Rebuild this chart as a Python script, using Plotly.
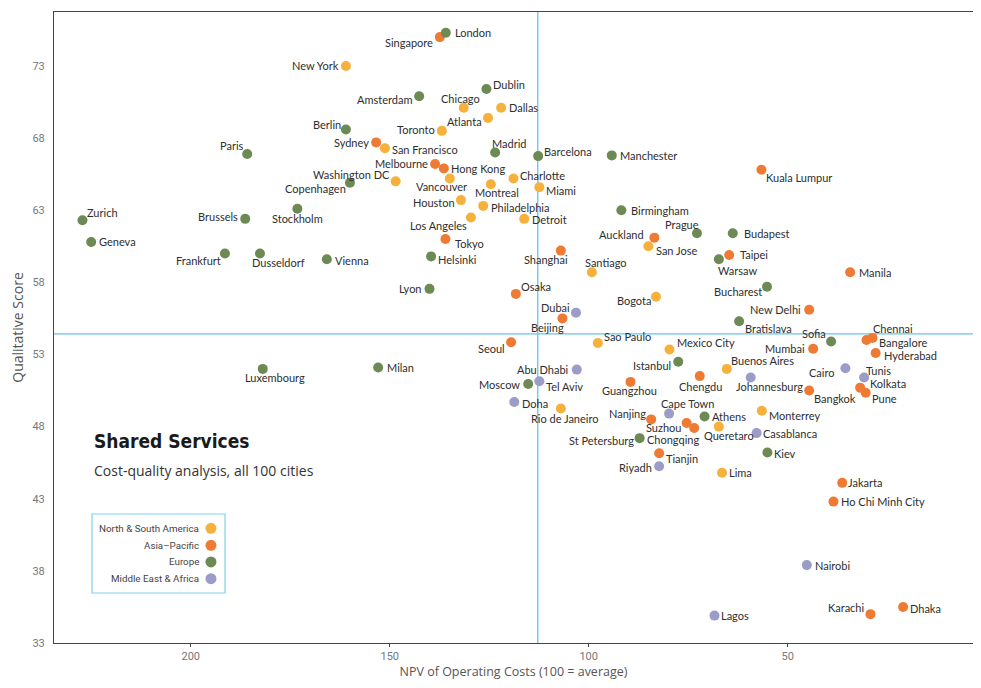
import plotly.graph_objects as go

# ---------------- data ----------------
americas_names = ["New York", "Chicago", "Dallas", "Atlanta", "Toronto", "San Francisco",
                  "Washington DC", "Vancouver", "Montreal", "Charlotte", "Miami", "Houston",
                  "Philadelphia", "Detroit", "Los Angeles", "Santiago", "San Jose", "Bogota",
                  "Sao Paulo", "Mexico City", "Buenos Aires", "Rio de Janeiro", "Monterrey",
                  "Queretaro", "Lima"]
americas_cost = [161.0, 131.4, 122.0, 125.3, 136.9, 151.2, 148.5, 134.9, 124.6, 118.9, 112.4,
                 132.1, 126.5, 116.2, 129.6, 99.2, 85.0, 83.1, 97.7, 79.7, 65.3, 107.0, 56.5,
                 67.3, 66.5]
americas_score = [73.0, 70.1, 70.1, 69.4, 68.5, 67.3, 65.0, 65.2, 64.8, 65.2, 64.6, 63.7,
                  63.3, 62.4, 62.5, 58.7, 60.5, 57.0, 53.8, 53.35, 52.0, 49.25, 49.1, 48.0, 44.8]

asia_names = ["Singapore", "Sydney", "Melbourne", "Hong Kong", "Tokyo", "Shanghai", "Osaka",
              "Beijing", "Seoul", "Auckland", "Kuala Lumpur", "Taipei", "Manila", "New Delhi",
              "Chennai", "Bangalore", "Mumbai", "Hyderabad", "Kolkata", "Pune", "Bangkok",
              "Chengdu", "Guangzhou", "Nanjing", "Suzhou", "Chongqing", "Tianjin", "Jakarta",
              "Ho Chi Minh City", "Karachi", "Dhaka"]
asia_cost = [137.4, 153.4, 138.6, 136.4, 136.0, 107.0, 118.3, 106.6, 119.5, 83.5, 56.6, 64.7,
             34.3, 44.6, 28.7, 30.2, 43.6, 27.9, 31.8, 30.4, 44.6, 72.1, 89.5, 84.3, 75.4, 73.5,
             82.3, 36.3, 38.5, 29.2, 21.0]
asia_score = [75.0, 67.7, 66.2, 65.9, 61.0, 60.2, 57.2, 55.5, 53.85, 61.1, 65.8, 59.9, 58.7,
              56.1, 54.15, 54.0, 53.4, 53.1, 50.7, 50.35, 50.5, 51.5, 51.1, 48.5, 48.25, 47.9,
              46.15, 44.1, 42.8, 35.0, 35.5]

europe_names = ["London", "Dublin", "Amsterdam", "Berlin", "Paris", "Copenhagen", "Stockholm",
                "Brussels", "Zurich", "Geneva", "Frankfurt", "Dusseldorf", "Vienna", "Helsinki",
                "Lyon", "Madrid", "Barcelona", "Manchester", "Birmingham", "Prague", "Budapest",
                "Warsaw", "Bucharest", "Bratislava", "Sofia", "Luxembourg", "Milan", "Istanbul",
                "Moscow", "St Petersburg", "Athens", "Kiev"]
europe_cost = [135.9, 125.7, 142.6, 161.0, 185.8, 160.0, 173.2, 186.3, 227.2, 225.0, 191.4,
               182.6, 165.8, 139.6, 140.0, 123.5, 112.7, 94.2, 91.8, 72.8, 63.8, 67.3, 55.2,
               62.2, 39.1, 181.9, 152.9, 77.5, 115.2, 87.2, 70.9, 55.1]
europe_score = [75.3, 71.4, 70.9, 68.6, 66.9, 64.9, 63.1, 62.4, 62.3, 60.8, 60.0, 60.0, 59.6,
                59.8, 57.55, 67.0, 66.75, 66.8, 63.0, 61.4, 61.4, 59.6, 57.7, 55.3, 53.9, 52.0,
                52.1, 52.5, 50.95, 47.2, 48.7, 46.2]

mea_names = ["Dubai", "Abu Dhabi", "Tel Aviv", "Doha", "Riyadh", "Cape Town", "Johannesburg",
             "Cairo", "Tunis", "Casablanca", "Nairobi", "Lagos"]
mea_cost = [103.2, 103.0, 112.4, 118.7, 82.3, 79.8, 59.3, 35.5, 30.8, 57.8, 45.2, 68.4]
mea_score = [55.9, 51.95, 51.15, 49.7, 45.25, 48.9, 51.4, 52.05, 51.4, 47.55, 38.4, 34.9]

region_names = ["North & South America", "Asia\u2013Pacific", "Europe", "Middle East & Africa"]

avg_cost = 112.8
avg_score = 54.43

x_ticks = [200, 150, 100, 50]
y_ticks = [33, 38, 43, 48, 53, 58, 63, 68, 73]

# ---------------- styles ----------------
COLORS = ["#F6B13C", "#EF7A33", "#6D8A55", "#9C9CC8"]

# label placement: (anchor side, x offset px of anchored edge from dot, y offset px downwards)
LABEL_OFFSETS = {
    "New York": ("right", -6, 0), "Berlin": ("right", -4, -5), "Sydney": ("right", -6, 0),
    "Paris": ("right", -2, -8), "Washington DC": ("right", -5, -7),
    "Copenhagen": ("right", -3, 6), "Stockholm": ("center", 0, 10),
    "Brussels": ("right", -6, -2), "Zurich": ("left", 4, -8), "Geneva": ("left", 7, 0),
    "Frankfurt": ("right", -3, 7), "Dusseldorf": ("left", -9, 9), "Vienna": ("left", 7, 1),
    "Luxembourg": ("left", -19, 9), "Milan": ("left", 8, 0),
    "London": ("left", 8, 0), "Singapore": ("right", -6, 5), "Dublin": ("left", 6, -5),
    "Amsterdam": ("right", -6, 3), "Chicago": ("center", -3, -9), "Dallas": ("left", 7, 0),
    "Atlanta": ("right", -5, 4), "Toronto": ("right", -6, -1),
    "San Francisco": ("left", 6, 1), "Madrid": ("left", -4, -9),
    "Barcelona": ("left", 5, -5), "Manchester": ("left", 7, 0),
    "Melbourne": ("right", -6, -1), "Hong Kong": ("left", 6, 0),
    "Vancouver": ("center", -8, 8), "Montreal": ("center", 6, 8),
    "Charlotte": ("left", 6, -3), "Miami": ("left", 6, 3), "Houston": ("right", -5, 2),
    "Philadelphia": ("left", 7, 2), "Detroit": ("left", 7, 1),
    "Los Angeles": ("right", -3, 8), "Tokyo": ("left", 9, 4), "Helsinki": ("left", 6, 3),
    "Lyon": ("right", -7, 0), "Osaka": ("left", 4, -7), "Shanghai": ("center", -15, 9),
    "Santiago": ("center", 14, -10), "Auckland": ("right", -9, -3),
    "San Jose": ("left", 7, 4), "Bogota": ("right", -4, 4), "Dubai": ("right", -5, -5),
    "Beijing": ("right", 3, 9), "Seoul": ("right", -5, 6), "Sao Paulo": ("left", 5, -6),
    "Mexico City": ("left", 7, -7), "Birmingham": ("left", 9, 0), "Prague": ("right", 3, -9),
    "Kuala Lumpur": ("left", 4, 8), "Budapest": ("left", 10, 0), "Taipei": ("left", 10, 0),
    "Warsaw": ("left", -2, 11), "Manila": ("left", 8, 0), "Bucharest": ("right", -4, 5),
    "New Delhi": ("right", -7, 0), "Bratislava": ("left", 5, 7),
    "Sofia": ("right", -4, -8), "Chennai": ("left", 0, -9), "Bangalore": ("left", 11, 2),
    "Mumbai": ("right", -7, 0), "Hyderabad": ("left", 7, 2), "Cairo": ("right", -10, 4),
    "Tunis": ("left", 1, -7), "Kolkata": ("left", 9, -4), "Pune": ("left", 5, 6),
    "Bangkok": ("left", 4, 8), "Johannesburg": ("left", -16, 9),
    "Buenos Aires": ("left", 3, -8), "Monterrey": ("left", 6, 5), "Athens": ("left", 6, 0),
    "Queretaro": ("left", -16, 9), "Casablanca": ("left", 5, 0), "Kiev": ("left", 6, 1),
    "Lima": ("left", 6, 0), "Jakarta": ("left", 5, 0), "Ho Chi Minh City": ("left", 7, 0),
    "Abu Dhabi": ("right", -7, 0), "Tel Aviv": ("left", 6, 5), "Moscow": ("right", -7, 0),
    "Doha": ("left", 7, 1), "Rio de Janeiro": ("center", 4, 10),
    "Istanbul": ("right", -6, 4), "Chengdu": ("center", 1, 10),
    "Guangzhou": ("center", -1, 9), "Cape Town": ("left", -9, -10),
    "Nanjing": ("right", -4, -6), "Suzhou": ("right", -5, 4), "Chongqing": ("right", 6, 11),
    "St Petersburg": ("right", -5, 2), "Tianjin": ("left", 6, 5), "Riyadh": ("right", -6, 1),
    "Nairobi": ("left", 7, 0), "Lagos": ("left", 6, 0), "Karachi": ("right", -5, -7),
    "Dhaka": ("left", 6, 2),
}
LABEL_FONT = dict(family="Lato, 'Open Sans', sans-serif", size=11, color="#2e2e2e")

fig = go.Figure()

groups = [
    (americas_names, americas_cost, americas_score),
    (asia_names, asia_cost, asia_score),
    (europe_names, europe_cost, europe_score),
    (mea_names, mea_cost, mea_score),
]
for (names, cost, score), rname, col in zip(groups, region_names, COLORS):
    fig.add_trace(go.Scatter(
        x=cost, y=score, mode="markers", name=rname,
        text=names,
        marker=dict(size=10, color=col, line=dict(width=0)),
        cliponaxis=False,
        hovertemplate="%{text}<br>Cost %{x}<br>Score %{y}<extra></extra>",
    ))
    for n, cx, cy in zip(names, cost, score):
        side, dx, dy = LABEL_OFFSETS.get(n, ("left", 7, 0))
        fig.add_annotation(x=cx, y=cy, xref="x", yref="y", text=n, showarrow=False,
                           xanchor=side, yanchor="middle", xshift=dx, yshift=-dy,
                           borderpad=0, font=LABEL_FONT)

# reference lines
LINE_BLUE = "#66C4EC"
fig.add_shape(type="line", xref="x", yref="paper", x0=avg_cost, x1=avg_cost, y0=0, y1=1,
              line=dict(color=LINE_BLUE, width=1.3), layer="below")
fig.add_shape(type="line", xref="paper", yref="y", x0=0, x1=1, y0=avg_score, y1=avg_score,
              line=dict(color=LINE_BLUE, width=1.3), layer="below")

# title and subtitle
fig.add_annotation(xref="paper", yref="paper", x=0.0413, y=0.320, xanchor="left", yanchor="middle",
                   text="<b>Shared Services</b>", showarrow=False,
                   font=dict(family="'Liberation Sans Narrow', 'DejaVu Sans Condensed', Roboto, sans-serif",
                             size=19, color="#1a1a1a"))
fig.add_annotation(xref="paper", yref="paper", x=0.0413, y=0.274, xanchor="left", yanchor="middle",
                   text="Cost-quality analysis, all 100 cities", showarrow=False,
                   font=dict(family="'Open Sans', sans-serif", size=14, color="#333333"))

# custom legend box (symbols on the right as in the reference)
fig.add_shape(type="rect", xref="paper", yref="paper", x0=0.0413, x1=0.1861, y0=0.0792, y1=0.2044,
              line=dict(color="#7FD0F0", width=1.2), fillcolor="rgba(255,255,255,0)")
leg_y = [0.1818, 0.1548, 0.1284, 0.1019]
for rname, col, yy in zip(region_names, COLORS, leg_y):
    fig.add_annotation(xref="paper", yref="paper", x=0.160, y=yy, xanchor="right", yanchor="middle",
                       text=rname, showarrow=False,
                       font=dict(family="Roboto, sans-serif", size=9.8, color="#444444"))
    fig.add_shape(type="circle", xref="paper", yref="paper", xsizemode="pixel", ysizemode="pixel",
                  xanchor=0.1708, yanchor=yy, x0=-5.5, x1=5.5, y0=-5.5, y1=5.5,
                  fillcolor=col, line=dict(width=0))

# page body has an 8px margin; figure sized so the page fits the 981x688 window
fig.update_layout(
    width=965, height=672,
    margin=dict(l=46, r=0, t=4, b=37),
    paper_bgcolor="white", plot_bgcolor="white",
    showlegend=False,
    font=dict(family="Roboto, sans-serif"),
)
fig.update_xaxes(
    range=[234.35, 3.44], tickvals=x_ticks, ticktext=[str(v) for v in x_ticks],
    automargin=False,
    showgrid=False, zeroline=False, showline=True, linecolor="#444444", linewidth=1,
    mirror=True, ticks="outside", ticklen=3, tickcolor="#444444",
    tickfont=dict(family="Roboto, sans-serif", size=11, color="#777777"),
    title=dict(text="NPV of Operating Costs (100 = average)", standoff=11,
               font=dict(family="'Open Sans', sans-serif", size=12.5, color="#555555")),
)
fig.update_yaxes(
    range=[33.0, 76.74], tickvals=y_ticks, ticktext=[str(v) for v in y_ticks],
    automargin=False,
    showgrid=False, zeroline=False, showline=True, linecolor="#444444", linewidth=1,
    mirror=False, ticks="", ticklabelstandoff=6,
    tickfont=dict(family="Roboto, sans-serif", size=11, color="#777777"),
    title=dict(text="Qualitative Score", standoff=8,
               font=dict(family="'Open Sans', sans-serif", size=14, color="#555555")),
)

fig.write_html("out.html")
